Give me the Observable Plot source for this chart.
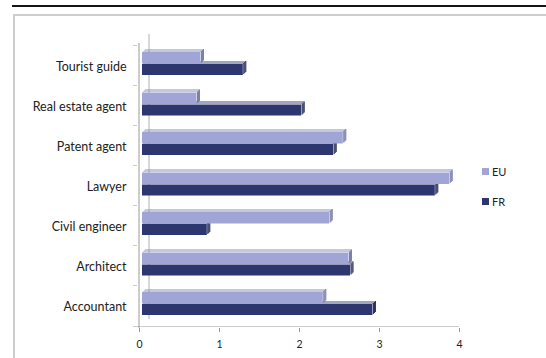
<!DOCTYPE html>
<html><head><meta charset="utf-8">
<script src="https://cdn.jsdelivr.net/npm/d3@7"></script>
<script src="https://cdn.jsdelivr.net/npm/@observablehq/plot@0.6"></script>
<style>
body{margin:0;background:#fff;}
#wrap{position:relative;width:546px;height:358px;overflow:hidden;font-family:Lato,"Open Sans",sans-serif;}
#chart{position:absolute;left:0;top:0;}
#rule{position:absolute;left:12px;top:5px;width:534px;height:2px;background:#151515;z-index:2;}
#box{position:absolute;left:13px;top:14px;width:560px;height:380px;border-left:2px solid #cdcdcd;border-top:2px solid #cdcdcd;z-index:2;}
.leg{position:absolute;left:482px;font-size:11px;color:#222;z-index:3;display:flex;align-items:center;height:10px;}
.leg span.sw{display:inline-block;width:7px;height:7px;margin-right:3px;}
svg g[aria-label^="x-axis"] text{font-size:10.5px;}
svg g[aria-label^="x-axis"] line, svg g[aria-label^="x-axis"] path{stroke:#9a9a9a;}
</style>
</head><body>
<div id="wrap">
  <div id="rule"></div>
  <div id="box"></div>
  <div id="chart"></div>
  <div id="legend"></div>
</div>
<script>
// ---- data ----
const categories = ["Tourist guide","Real estate agent","Patent agent","Lawyer","Civil engineer","Architect","Accountant"];
const euValues = [0.73, 0.68, 2.51, 3.84, 2.34, 2.58, 2.26];
const frValues = [1.26, 1.99, 2.39, 3.66, 0.81, 2.60, 2.88];
const seriesNames = ["EU","FR"];
const xTicks = [0, 1, 2, 3, 4];

// ---- styling / layout ----
const colors = {
  EU: {front: "#a0a5d5", top: "#8a8eb9", side: "#6f74a2"},
  FR: {front: "#2e3670", top: "#454c84", side: "#1b2150"}
};
const W = 546, H = 358;
const mT = 43, mB = 30, mL = 139, mR = 87;
const bw = 40.5;
const yRange = [mT, mT + bw * categories.length];
const slots = {EU: [7, 12], FR: [19, 11.5]};   // [offset in band, height]
const shift = 3;   // bars' front face offset from the axis (3D depth)
const axisGrey = "#9a9a9a";

const table = categories.map((c, i) => ({cat: c, EU: euValues[i], FR: frValues[i]}));

// pixel-snapped insets for band i
function snap(i, off, h) {
  const start = yRange[0] + i * bw;
  const top = Math.round(start + off);
  return {insetTop: top - start, insetBottom: bw - (top + h - start)};
}

function barMarks(s) {
  const [t, h] = slots[s];
  const marks = [];
  categories.forEach((c, i) => {
    const rows = table.filter(d => d.cat === c);
    for (let k = 1; k <= 3; k++) {
      // top face strips
      marks.push(Plot.barX(rows, {
        x1: () => 0, x2: s, y: "cat", fill: colors[s].top,
        ...snap(i, t - k, 1), dx: shift + k
      }));
      // side face strips
      marks.push(Plot.tickX(rows, {
        x: s, y: "cat", stroke: colors[s].side, strokeWidth: 1,
        ...snap(i, t, h), dx: shift + k - 0.5, dy: -k
      }));
    }
    // front face
    marks.push(Plot.barX(rows, {
      x1: () => 0, x2: s, y: "cat", fill: colors[s].front,
      ...snap(i, t, h), dx: shift
    }));
  });
  return marks;
}

const lastCat = categories[categories.length - 1];

const chart = Plot.plot({
  width: W, height: H,
  marginTop: mT, marginBottom: mB, marginLeft: mL, marginRight: mR,
  style: {fontFamily: "Lato, 'Open Sans', sans-serif", fontSize: "12.5px", color: "#222", background: "transparent", overflow: "visible"},
  x: {domain: [0, 4], ticks: xTicks, tickSize: 4, tickPadding: 8, label: null, tickFormat: d => String(d)},
  y: {domain: categories, range: yRange, padding: 0, axis: null},
  marks: [
    // back wall edge
    Plot.ruleX([0], {dx: 9.5, dy: -9, stroke: "#b0b0b0", strokeWidth: 1}),
    // front vertical axis
    Plot.ruleX([0], {dx: -0.5, stroke: axisGrey, strokeWidth: 1}),
    // category boundary ticks
    ...categories.map((c, i) => Plot.barX([c], {x1: () => 0, x2: () => 0, y: d => d, ...snap(i, 0, 1), insetLeft: -6, insetRight: 2, fill: axisGrey})),
    // horizontal axis line (bottom of the plot)
    Plot.barX([lastCat], {x1: () => 0, x2: () => 4, y: d => d, ...snap(categories.length - 1, H - mB - 1 - (yRange[0] + (categories.length - 1) * bw), 1), insetLeft: -2, fill: axisGrey}),
    Plot.barX([lastCat], {x1: () => 0, x2: () => 0, y: d => d, ...snap(categories.length - 1, H - mB - 1 - (yRange[0] + (categories.length - 1) * bw), 1), insetLeft: -6, insetRight: 2, fill: axisGrey}),
    ...barMarks("FR"),
    ...barMarks("EU"),
    // category labels
    Plot.text(categories, {y: d => d, text: d => d, frameAnchor: "left", textAnchor: "end", dx: -13, dy: 1.5, fill: "#222"})
  ]
});
document.getElementById("chart").appendChild(chart);

// legend
const legend = document.getElementById("legend");
const legTops = {EU: 166, FR: 196};
seriesNames.forEach(s => {
  const d = document.createElement("div");
  d.className = "leg";
  d.style.top = legTops[s] + "px";
  d.innerHTML = `<span class="sw" style="background:${colors[s].front}"></span><span>${s}</span>`;
  legend.appendChild(d);
});
</script>
</body></html>
